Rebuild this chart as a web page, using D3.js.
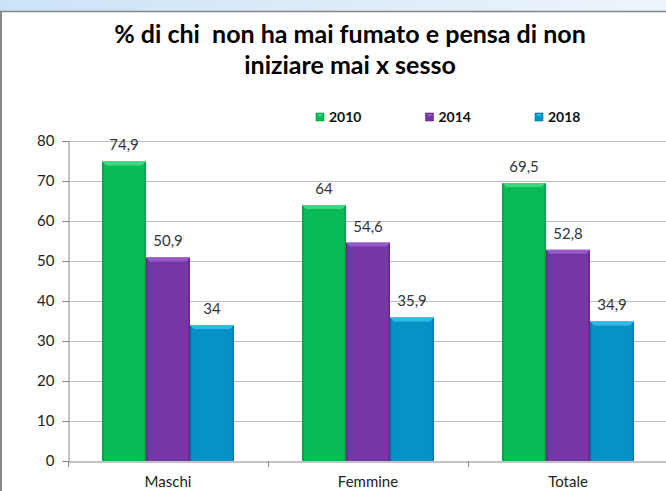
<!DOCTYPE html>
<html>
<head>
<meta charset="utf-8">
<script src="https://cdn.jsdelivr.net/npm/d3@7/dist/d3.min.js"></script>
<style>
  html, body { margin: 0; padding: 0; background: #fff; }
  svg { display: block; }
</style>
</head>
<body>
<svg id="chart" width="666" height="491"></svg>
<script>
const categories = ["Maschi", "Femmine", "Totale"];
const seriesNames = ["2010", "2014", "2018"];
const values2010 = [74.9, 64, 69.5];
const values2014 = [50.9, 54.6, 52.8];
const values2018 = [34, 35.9, 34.9];
const valueLabels2010 = ["74,9", "64", "69,5"];
const valueLabels2014 = ["50,9", "54,6", "52,8"];
const valueLabels2018 = ["34", "35,9", "34,9"];
const yTicks = [0, 10, 20, 30, 40, 50, 60, 70, 80];
const titleLines = ["% di chi  non ha mai fumato e pensa di non", "iniziare mai x sesso"];

const seriesValues = [values2010, values2014, values2018];
const seriesLabels = [valueLabels2010, valueLabels2014, valueLabels2018];
const colors = [
  { base: "#09bb56", light: "#3fd67f", dark: "#07964a" },
  { base: "#7636a5", light: "#9a58cc", dark: "#5c2a82" },
  { base: "#0792c6", light: "#34b8e6", dark: "#05729c" }
];
const font = "Lato, 'Open Sans', sans-serif";

const svg = d3.select("#chart");

// top strip + frame
const defs = svg.append("defs");
const strip = defs.append("linearGradient").attr("id", "strip");
strip.append("stop").attr("offset", "0%").attr("stop-color", "#cce3f7");
strip.append("stop").attr("offset", "100%").attr("stop-color", "#eef4fb");
svg.append("rect").attr("x", 0).attr("y", 0).attr("width", 666).attr("height", 11).attr("fill", "url(#strip)");
svg.append("line").attr("x1", 0).attr("x2", 666).attr("y1", 11.5).attr("y2", 11.5).attr("stroke", "#868686").attr("stroke-width", 1.5);
svg.append("line").attr("x1", 1).attr("x2", 1).attr("y1", 11).attr("y2", 491).attr("stroke", "#868686").attr("stroke-width", 2);

colors.forEach((c, i) => {
  const g = defs.append("linearGradient").attr("id", "bar" + i);
  g.append("stop").attr("offset", "0%").attr("stop-color", c.dark);
  g.append("stop").attr("offset", "6%").attr("stop-color", c.base);
  g.append("stop").attr("offset", "94%").attr("stop-color", c.base);
  g.append("stop").attr("offset", "100%").attr("stop-color", c.dark);
});

// title
svg.append("g").selectAll("text")
  .data(titleLines)
  .join("text")
  .attr("x", 350)
  .attr("y", (d, i) => 43 + i * 31)
  .attr("text-anchor", "middle")
  .attr("font-family", font)
  .attr("font-weight", "bold")
  .attr("font-size", 25)
  .attr("fill", "#000")
  .style("white-space", "pre")
  .text(d => d);

// scales
const x0 = d3.scaleBand().domain(categories).range([68, 668]).paddingInner(0).paddingOuter(0);
const x1 = d3.scaleBand().domain(seriesNames).range([34, 200 - 34]);
const y = d3.scaleLinear().domain([0, 80]).range([461, 141]);

// gridlines
svg.append("g").selectAll("line")
  .data(yTicks.slice(1))
  .join("line")
  .attr("x1", 62).attr("x2", 666)
  .attr("y1", d => Math.round(y(d)) + 0.5).attr("y2", d => Math.round(y(d)) + 0.5)
  .attr("stroke", "#bdbdbd");

// y axis
const yAxis = svg.append("g")
  .attr("transform", "translate(68.5,0)")
  .call(d3.axisLeft(y).tickValues(yTicks).tickSize(6).tickPadding(8));
yAxis.select(".domain").attr("stroke", "#868686");
yAxis.selectAll(".tick line").attr("stroke", "#868686");
yAxis.selectAll(".tick text")
  .attr("font-family", font).attr("font-size", 15).attr("fill", "#222");

// x axis
const xAxis = svg.append("g")
  .attr("transform", "translate(0,461.5)")
  .call(d3.axisBottom(x0).tickSize(0).tickPadding(15).tickSizeOuter(0));
xAxis.select(".domain").attr("stroke", "#868686");
xAxis.selectAll(".tick text")
  .attr("font-family", font).attr("font-size", 15).attr("fill", "#222");
svg.append("g").selectAll("line")
  .data(categories)
  .join("line")
  .attr("x1", d => x0(d) + 0.5).attr("x2", d => x0(d) + 0.5)
  .attr("y1", 461).attr("y2", 467)
  .attr("stroke", "#868686");

// bars
const bevel = 4;
seriesValues.forEach((vals, si) => {
  const g = svg.append("g");
  const items = categories.map((c, ci) => ({
    x: x0(c) + x1(seriesNames[si]),
    w: x1.bandwidth(),
    top: y(vals[ci]),
    label: seriesLabels[si][ci]
  }));
  g.selectAll("rect")
    .data(items)
    .join("rect")
    .attr("x", d => d.x)
    .attr("y", d => d.top)
    .attr("width", d => d.w)
    .attr("height", d => y(0) - d.top)
    .attr("fill", "url(#bar" + si + ")");
  g.selectAll("polygon")
    .data(items)
    .join("polygon")
    .attr("points", d => [
      [d.x, d.top], [d.x + d.w, d.top],
      [d.x + d.w - bevel, d.top + bevel], [d.x + bevel, d.top + bevel]
    ].map(p => p.join(",")).join(" "))
    .attr("fill", colors[si].light);
  g.selectAll("text")
    .data(items)
    .join("text")
    .attr("x", d => d.x + d.w / 2)
    .attr("y", d => d.top - 11)
    .attr("text-anchor", "middle")
    .attr("font-family", font)
    .attr("font-size", 15)
    .attr("fill", "#333")
    .text(d => d.label);
});

// legend
const legendX = d3.scalePoint().domain(seriesNames).range([316, 535]);
const legend = svg.append("g").selectAll("g")
  .data(seriesNames)
  .join("g")
  .attr("transform", d => `translate(${legendX(d)},113)`);
legend.append("rect")
  .attr("width", 8).attr("height", 8)
  .attr("fill", (d, i) => colors[i].base)
  .attr("stroke", (d, i) => colors[i].dark).attr("stroke-width", 0.6);
legend.append("polygon")
  .attr("points", "1,1 7,1 4,4")
  .attr("fill", (d, i) => colors[i].light);
legend.append("text")
  .attr("x", 13).attr("y", 9)
  .attr("font-family", font)
  .attr("font-weight", "bold")
  .attr("font-size", 14)
  .attr("fill", "#111")
  .text(d => d);
</script>
</body>
</html>
